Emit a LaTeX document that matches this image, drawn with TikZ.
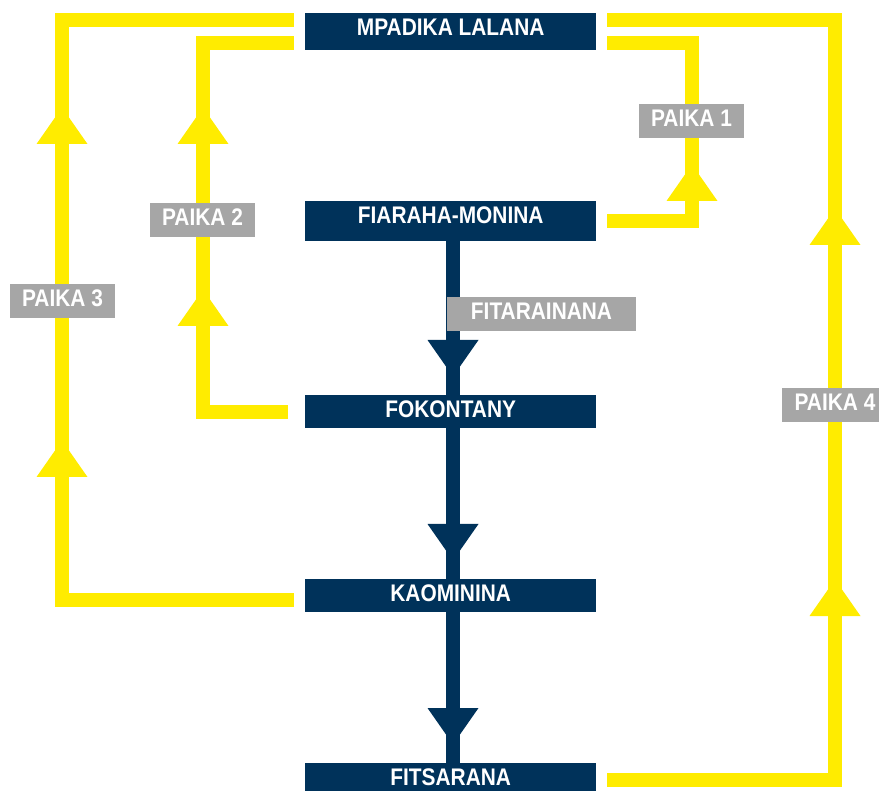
\documentclass[tikz,border=0pt]{standalone}
\usepackage{fontspec}
\newfontfamily\labfont{Liberation Sans}[FakeStretch=0.87]
\usetikzlibrary{calc}
\definecolor{navy}{HTML}{00325A}
\definecolor{yel}{HTML}{FFEC00}
\definecolor{greylab}{HTML}{A6A6A6}
\tikzset{
  navybox/.style={fill=navy, inner sep=0pt, minimum width=291pt, anchor=north west},
  boxtext/.style={anchor=base, text=white, inner sep=0pt, font=\labfont\bfseries\fontsize{24}{24}\selectfont},
  greybox/.style={fill=greylab, text=white, inner sep=0pt, minimum height=34pt, text height=17.5pt, text depth=6.5pt, font=\labfont\bfseries\fontsize{24}{24}\selectfont},
  yelline/.style={draw=yel, line width=14pt, line join=miter},
  navyline/.style={draw=navy, line width=14pt},
  yup/.pic={\fill[yel] (-25.5,0) -- (25.5,0) -- (0,-36.5) -- cycle;},
  ndown/.pic={\fill[navy] (-25.5,0) -- (25.5,0) -- (0,36.5) -- cycle;}
}
\begin{document}
\begin{tikzpicture}[x=1pt,y=-1pt]
\useasboundingbox (0,0) rectangle (879,791);
% boxes
\node[navybox, minimum height=37pt] (mp) at (305,13) {};
\node[navybox, minimum height=40pt] (fi) at (305,201) {};
\node[navybox, minimum height=33pt] (fo) at (305,395) {};
\node[navybox, minimum height=33pt] (ka) at (305,579) {};
\node[navybox, minimum height=28pt] (ft) at (305,763) {};
% coordinates for yellow paths
\coordinate (p3s) at (293.7,600);
\coordinate (p3c) at (62,20);
\coordinate (p3e) at (293.7,20);
\coordinate (p2s) at (288,412);
\coordinate (p2c) at (203,43);
\coordinate (p2e) at (293.7,43);
\coordinate (p1s) at (607,221);
\coordinate (p1c) at (692,43);
\coordinate (p1e) at (607,43);
\coordinate (p4s) at (607,780);
\coordinate (p4c) at (835,20);
\coordinate (p4e) at (607,20);
% yellow paths
\draw[yelline] (p3s) -| (p3c) -- (p3e);
\draw[yelline] (p2s) -| (p2c) -- (p2e);
\draw[yelline] (p1s) -| (p1c) -- (p1e);
\draw[yelline] (p4s) -| (p4c) -- (p4e);
% navy path
\draw[navyline] ([xshift=2.5pt]fi.south) -- ([xshift=2.5pt]ft.north);
% arrowheads
\pic at (62,144) {yup};
\pic at (62,477) {yup};
\pic at (203,144) {yup};
\pic at (203,326) {yup};
\pic at (692,201) {yup};
\pic at (835,245) {yup};
\pic at (835,616) {yup};
\pic at (453,340) {ndown};
\pic at (453,524) {ndown};
\pic at (453,708) {ndown};
% box texts
\node[boxtext] (tmp) at ([yshift=-22.7pt]mp.north) {MPADIKA LALANA};
\node[boxtext] (tfi) at ([yshift=-22.7pt]fi.north) {FIARAHA-MONINA};
\node[boxtext] (tfo) at ([yshift=-22.7pt]fo.north) {FOKONTANY};
\node[boxtext] (tka) at ([yshift=-22.7pt]ka.north) {KAOMININA};
\node[boxtext] (tft) at ([yshift=-22.7pt]ft.north) {FITSARANA};
% grey labels
\node[greybox, minimum width=105pt] (l1) at (691.5,121.5) {PAIKA 1};
\node[greybox, minimum width=105pt] (l2) at (202.5,220) {PAIKA 2};
\node[greybox, minimum width=105pt] (l3) at (62.5,301.5) {PAIKA 3};
\node[greybox, minimum width=106pt] (l4) at (835,405.5) {PAIKA 4};
\node[greybox, minimum width=189pt] (lf) at (541.5,314.5) {FITARAINANA};
\end{tikzpicture}
\end{document}
